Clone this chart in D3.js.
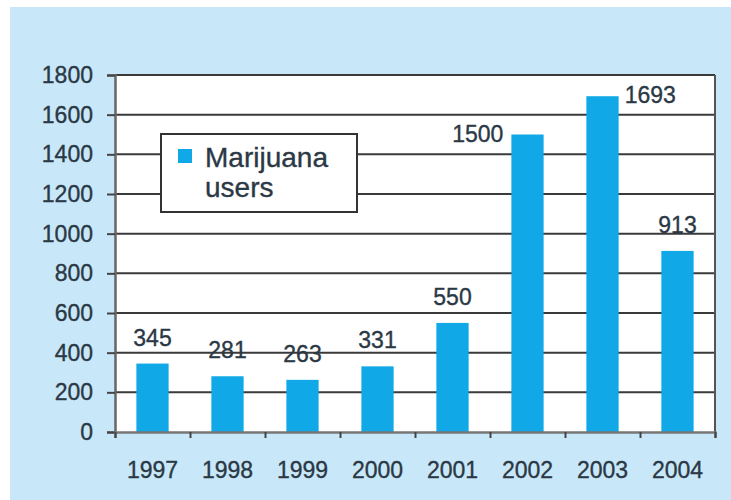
<!DOCTYPE html>
<html><head><meta charset="utf-8">
<script src="https://cdn.jsdelivr.net/npm/d3@7"></script>
<style>html,body{margin:0;padding:0;background:#fff;}svg{display:block;}</style>
</head><body>
<svg id="c" width="731" height="500"></svg>
<script>
const years = ["1997","1998","1999","2000","2001","2002","2003","2004"];
const users = [345, 281, 263, 331, 550, 1500, 1693, 913];
const yTicks = [0,200,400,600,800,1000,1200,1400,1600,1800];
const seriesName = ["Marijuana", "users"];

const svg = d3.select("#c");
const W = 731, H = 500;
const m = {left:115, right:16, top:75, bottom:68};
const x0 = m.left, x1 = W - m.right, y0 = H - m.bottom, y1 = m.top;
const textCol = "#2b3845", font = "Liberation Sans, Arial, sans-serif";

svg.append("rect").attr("x",10).attr("y",7).attr("width",W-10).attr("height",H-7).attr("fill","#c8e8f9");
svg.append("rect").attr("x",x0).attr("y",y1).attr("width",x1-x0).attr("height",y0-y1).attr("fill","#fff");

const x = d3.scaleBand().domain(years).range([x0,x1]).paddingInner(0.57).paddingOuter(0.285);
const y = d3.scaleLinear().domain([0,1800]).range([y0,y1]);

// gridlines
svg.append("g").selectAll("line").data(yTicks.filter(d=>d>0)).join("line")
  .attr("x1",x0).attr("x2",x1).attr("y1",d=>y(d)).attr("y2",d=>y(d))
  .attr("stroke","#3a3a3a").attr("stroke-width",2);
// right border
svg.append("line").attr("x1",x1).attr("x2",x1).attr("y1",y1).attr("y2",y0).attr("stroke","#555").attr("stroke-width",2);

// bars
svg.append("g").selectAll("rect").data(users).join("rect")
  .attr("x",(d,i)=>x(years[i])).attr("width",x.bandwidth())
  .attr("y",d=>y(d)).attr("height",d=>y(0)-y(d)).attr("fill","#10a8e6");

function styleText(sel, size){
  sel.attr("font-family",font).attr("font-size",size).attr("fill",textCol)
     .attr("stroke",textCol).attr("stroke-width",0.35);
}

// y axis
const ya = svg.append("g").attr("transform",`translate(${x0},0)`)
  .call(d3.axisLeft(y).tickValues(yTicks).tickSize(8).tickPadding(14).tickFormat(d3.format("d")));
ya.select(".domain").attr("stroke","#666").attr("stroke-width",2.5);
ya.selectAll(".tick line").attr("stroke","#444").attr("stroke-width",2);
styleText(ya.selectAll("text"), 23);

// x axis
const xb = d3.scaleLinear().domain([0,years.length]).range([x0,x1]);
const xa = svg.append("g").attr("transform",`translate(0,${y0})`)
  .call(d3.axisBottom(xb).tickValues(d3.range(0,years.length+1)).tickSize(6).tickFormat(""));
xa.select(".domain").attr("stroke","#777").attr("stroke-width",2.5);
xa.selectAll(".tick line").attr("stroke","#444").attr("stroke-width",2);
const xl = svg.append("g").selectAll("text").data(years).join("text")
  .attr("x",d=>x(d)+x.bandwidth()/2).attr("y",y0+46).attr("text-anchor","middle").text(d=>d);
styleText(xl, 23);

// value labels
const vl = svg.append("g").selectAll("text").data(users).join("text")
  .each(function(d,i){
    const t = d3.select(this);
    const bx = x(years[i]), bw = x.bandwidth();
    if (d > 1000) {
      const leftSide = i+1 < users.length && users[i+1] > d;
      t.attr("x", leftSide ? bx-8 : bx+bw+6).attr("y", y(d)+7)
       .attr("text-anchor", leftSide ? "end" : "start");
    } else {
      t.attr("x", bx+bw/2).attr("y", y(d)-18).attr("text-anchor","middle");
    }
  })
  .text(d=>d);
styleText(vl, 23);

// legend
const lg = svg.append("g");
lg.append("rect").attr("x",161).attr("y",134).attr("width",196).attr("height",78)
  .attr("fill","#fff").attr("stroke","#333").attr("stroke-width",2);
lg.append("rect").attr("x",178).attr("y",149).attr("width",14).attr("height",14).attr("fill","#10a8e6");
const lt = lg.selectAll("text.l").data(seriesName).join("text").attr("class","l")
  .attr("x",205).attr("y",(d,i)=>167+i*30).text(d=>d);
styleText(lt, 28);
</script>
</body></html>
